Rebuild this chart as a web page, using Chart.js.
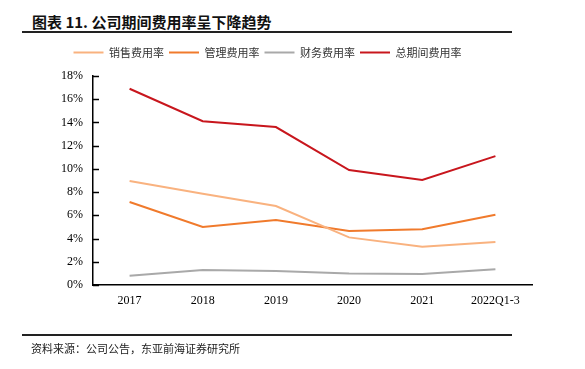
<!DOCTYPE html>
<html>
<head>
<meta charset="utf-8">
<script src="https://cdn.jsdelivr.net/npm/chart.js@4.4.0/dist/chart.umd.min.js"></script>
<style>
    html, body { margin: 0; padding: 0; background: #fff; }
    body { width: 585px; height: 369px; position: relative; overflow: hidden; font-family: "Noto Sans CJK SC", sans-serif; }
    .title { position: absolute; left: 32px; top: 11px; font-size: 15px; font-weight: bold; color: #111; }
    .rule { position: absolute; left: 22px; width: 490px; height: 2px; background: #222; }
    .source { position: absolute; left: 31px; top: 340px; font-size: 11px; color: #222; }
    #wrap { position: absolute; left: 0; top: 0; width: 585px; height: 369px; }
</style>
</head>
<body>
<div class="title">图表 11. 公司期间费用率呈下降趋势</div>
<div class="rule" style="top:31px"></div>
<div id="wrap"><canvas id="c" width="585" height="369"></canvas></div>
<div class="rule" style="top:334px"></div>
<div class="source">资料来源：公司公告，东亚前海证券研究所</div>
<script>
(() => {
    const categories = ['2017', '2018', '2019', '2020', '2021', '2022Q1-3'];
    const salesRate = [8.95, 7.85, 6.8, 4.1, 3.3, 3.7];
    const adminRate = [7.15, 5.0, 5.6, 4.65, 4.8, 6.05];
    const financeRate = [0.8, 1.3, 1.2, 1.0, 0.95, 1.35];
    const totalRate = [16.9, 14.1, 13.6, 9.9, 9.05, 11.1];

    const serif = "'Liberation Serif', 'Times New Roman', serif";

    // inward tick marks on the y axis
    const innerTicks = {
        id: 'innerTicks',
        afterDraw(chart) {
            const y = chart.scales.y;
            const ctx = chart.ctx;
            ctx.save();
            ctx.strokeStyle = '#000';
            ctx.lineWidth = 1.5;
            y.ticks.forEach((t, i) => {
                const py = Math.round(y.getPixelForTick(i)) + 0.5;
                ctx.beginPath();
                ctx.moveTo(y.right, py);
                ctx.lineTo(y.right + 6, py);
                ctx.stroke();
            });
            ctx.restore();
        }
    };

    // extra room under the legend, and nudge it a bit to the left
    const legendGap = {
        id: 'legendGap',
        beforeInit(chart) {
            const fit = chart.legend.fit;
            chart.legend.fit = function () {
                fit.call(this);
                this.height += 8;
            };
        },
        afterLayout(chart) {
            chart.legend.left -= 15;
            chart.legend.right -= 15;
        }
    };

    const ds = (label, data, color) => ({
        label,
        data,
        borderColor: color,
        backgroundColor: color,
        borderWidth: 2,
        pointRadius: 0,
        tension: 0,
        pointStyle: 'line'
    });

    new Chart(document.getElementById('c'), {
        type: 'line',
        data: {
            labels: categories,
            datasets: [
                ds('销售费用率', salesRate, '#F9B27F'),
                ds('管理费用率', adminRate, '#F07A2C'),
                ds('财务费用率', financeRate, '#A9A9A9'),
                ds('总期间费用率', totalRate, '#C8161D')
            ]
        },
        options: {
            responsive: false,
            animation: false,
            layout: { padding: { left: 33, right: 53, top: 42, bottom: 54 } },
            plugins: {
                tooltip: { enabled: false },
                legend: {
                    display: true,
                    labels: {
                        usePointStyle: true,
                        pointStyleWidth: 30,
                        boxHeight: 2,
                        padding: 5,
                        color: '#333',
                        font: { family: "'Noto Sans CJK SC', sans-serif", size: 11 }
                    }
                }
            },
            scales: {
                x: {
                    offset: true,
                    grid: { display: false, drawTicks: false },
                    border: { color: '#000', width: 1.5 },
                    ticks: { color: '#000', padding: 9, font: { family: serif, size: 12 } },
                    afterFit: (s) => { s.height = 30; }
                },
                y: {
                    min: 0,
                    max: 18,
                    grid: { display: false, drawTicks: false },
                    border: { color: '#000', width: 1.5 },
                    ticks: {
                        stepSize: 2,
                        color: '#000',
                        padding: 10,
                        font: { family: serif, size: 12 },
                        callback: (v) => v + '%'
                    },
                    afterFit: (s) => { s.width = 60; }
                }
            }
        },
        plugins: [innerTicks, legendGap]
    });
})();
</script>
</body>
</html>
